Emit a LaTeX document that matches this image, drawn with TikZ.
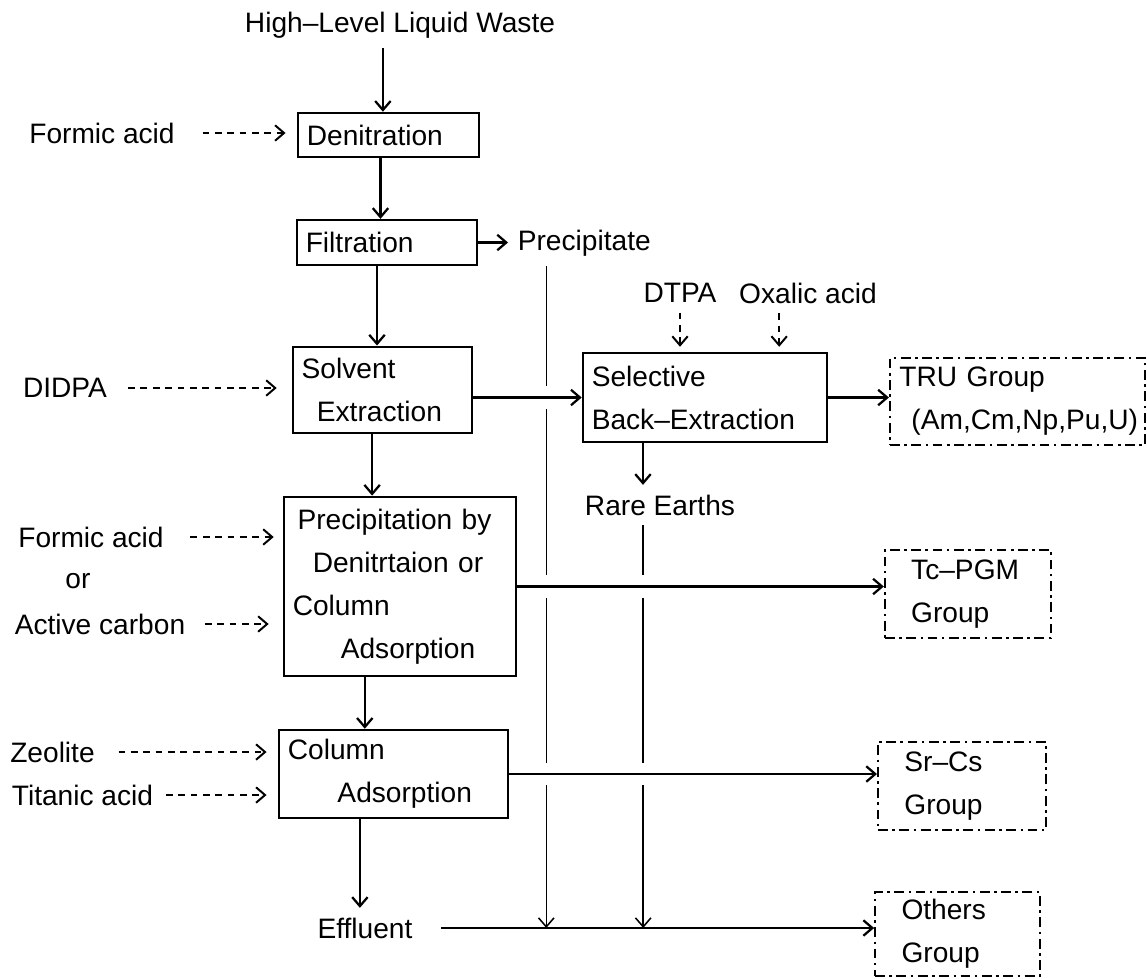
\documentclass[tikz,border=0pt]{standalone}
\usepackage{fontspec}
\setmainfont{Liberation Sans}
\usetikzlibrary{arrows.meta, positioning}

\begin{document}
\begin{tikzpicture}[x=0.0125cm, y=-0.0125cm,
    font=\fontsize{10}{15.3}\selectfont,
    proc/.style={draw, line width=0.9pt, inner xsep=0.11cm, inner ysep=0pt,
                 align=left, text width=#1},
    grp/.style={draw, line width=0.7pt,
                dash pattern=on 3.5pt off 1.6pt on 0.9pt off 1.6pt,
                inner xsep=0.33cm, inner ysep=0pt, align=left, text width=#1},
    lbl/.style={inner sep=0.33em},
    flow/.style={-{Straight Barb[length=3.2pt, width=5.5pt]}, line width=0.8pt},
    feed/.style={-{Straight Barb[length=3.2pt, width=5.5pt]}, line width=0.7pt,
                 dash pattern=on 2.4pt off 2pt, shorten >=4pt},
    drop/.style={-{Straight Barb[length=3.2pt, width=5.5pt]}, line width=0.55pt},
    crossing/.style={preaction={draw=white, -, line width=8pt,
                     shorten <=6pt, shorten >=6pt}}
]
\useasboundingbox (0,0) rectangle (1147,978);

%% -- Main process column ---------------------------------------------
\node[lbl] (hlw) at (400,25) {High\textendash Level Liquid Waste};
\node[proc=2.04cm, minimum height=0.55cm] (deni) at (388.5,135) {Denitration};
\node[proc=2.03cm, minimum height=0.56cm] (filt) at (387,242.5) {Filtration};
\node[lbl, anchor=west] (ppt) at (508,243) {Precipitate};
\node[proc=2.02cm, minimum height=1.08cm] (solv) at (382.5,390)
      {Solvent\\\hspace*{0.19cm}Extraction};
\node[proc=2.68cm, minimum height=2.24cm] (pcp) at (400,586.5)
      {\hspace*{0.06cm}Precipitation by\\\hspace*{0.25cm}Denitrtaion or\\Column\\\hspace*{0.6cm}Adsorption};
\node[proc=2.64cm, minimum height=1.1cm] (cad) at (393.5,774)
      {Column\\\hspace*{0.62cm}Adsorption};
\node[lbl] (effl) at (365,928) {Effluent};

%% -- Back-extraction branch -------------------------------------------
\node[lbl] (dtpa) at (680,293) {DTPA};
\node[lbl] (oxal) at (808,293) {Oxalic acid};
\node[proc=2.83cm, minimum height=1.11cm] (sbe) at (705,397.5)
      {Selective\\Back\textendash Extraction};
\node[lbl] (ree) at (660,505) {Rare Earths};

%% -- Product groups ---------------------------------------------------
\node[grp=2.95cm, inner xsep=0.12cm, minimum height=1.09cm] (tru) at (1017.5,401.5)
      {TRU Group\\\hspace*{0.15cm}(Am,Cm,Np,Pu,U)};
\node[grp=1.42cm, minimum height=1.1cm] (tcp) at (968,594) {Tc\textendash PGM\\Group};
\node[grp=1.44cm, minimum height=1.1cm] (srcs) at (962,786) {Sr\textendash Cs\\Group};
\node[grp=1.40cm, minimum height=1.05cm] (oth) at (957.5,934) {Others\\Group};

%% -- Reagents (left margin) -------------------------------------------
\node[lbl] (fa1)   at (102,133)  {Formic acid};
\node[lbl] (didpa) at (65,388)   {DIDPA};
\node[lbl] (fa2)   at (91,537)   {Formic acid};
\node[lbl] (orr)   at (78,581)   {or};
\node[lbl] (actc)  at (100,624)  {Active carbon};
\node[lbl] (zeol)  at (52.5,752) {Zeolite};
\node[lbl] (tita)  at (82.5,795) {Titanic acid};

%% -- Main flow arrows -------------------------------------------------
\draw[flow] ([xshift=-0.07cm]deni.north |- hlw.south) -- ([xshift=-0.07cm]deni.north);
\draw[flow] ([xshift=-0.1cm]deni.south) -- ([xshift=-0.1cm]deni.south |- filt.north);
\draw[flow] ([xshift=-0.125cm]filt.south) -- ([xshift=-0.125cm]filt.south |- solv.north);
\draw[flow] (filt.east) -- (filt.east -| ppt.west);
\draw[flow] ([xshift=-0.13cm]solv.south) -- ([xshift=-0.13cm]solv.south |- pcp.north);
\draw[flow] ([xshift=-0.44cm]pcp.south) -- ([xshift=-0.44cm]pcp.south |- cad.north);
\draw[flow] ([xshift=-0.42cm]cad.south) -- ([xshift=-0.42cm]cad.south |- effl.north);
\draw[flow] ([xshift=-0.775cm]sbe.south) -- ([xshift=-0.775cm]sbe.south |- ree.north);

%% -- Reagent feeds ----------------------------------------------------
\draw[feed, shorten <=6.4pt] (fa1.east) -- (fa1.east -| deni.west);
\draw[feed, shorten <=4pt, shorten >=5.3pt] (didpa.east) -- (didpa.east -| solv.west);
\draw[feed, shorten <=6pt, shorten >=3.2pt] (fa2.east) -- (fa2.east -| pcp.west);
\draw[feed, shorten <=3.5pt, shorten >=5pt] (actc.east) -- (actc.east -| pcp.west);
\draw[feed, shorten <=5pt] (zeol.east) -- (zeol.east -| cad.west);
\draw[feed, shorten <=1pt] (tita.east) -- (tita.east -| cad.west);
\draw[feed, shorten >=1.8pt] (dtpa.south) -- (dtpa.south |- sbe.north);
\draw[feed, shorten >=1.8pt] ([xshift=-0.36cm]oxal.south) -- ([xshift=-0.36cm]oxal.south |- sbe.north);

%% -- Drops to the effluent line ---------------------------------------
\draw[drop] ([xshift=-0.475cm]ppt.south) -- ([xshift=-0.475cm]ppt.south |- effl.east);
\draw[drop] ([xshift=-0.21cm]ree.south) -- ([xshift=-0.21cm]ree.south |- effl.east);
\draw[flow, shorten <=6.7pt] (effl.east) -- (effl.east -| oth.west);

%% -- Outputs to groups (cut the drops) --------------------------------
\draw[flow, crossing] (sbe.west -| solv.east) -- (sbe.west);
\draw[flow] (sbe.east) -- (sbe.east -| tru.west);
\draw[flow, crossing] (pcp.east) -- (pcp.east -| tcp.west);
\draw[flow, crossing] (cad.east) -- (cad.east -| srcs.west);
\end{tikzpicture}
\end{document}
